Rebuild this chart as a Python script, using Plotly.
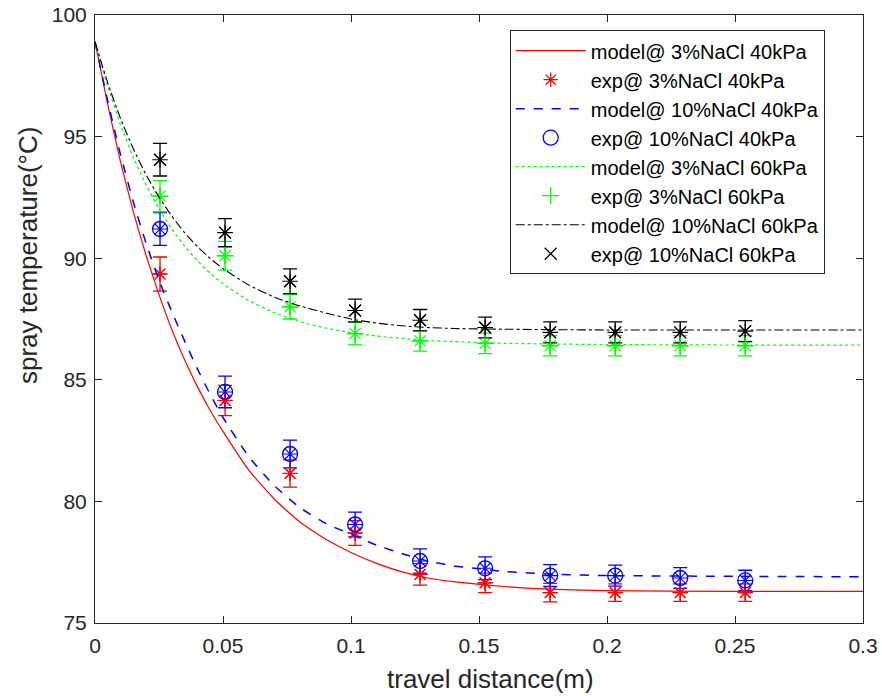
import plotly.graph_objects as go

# ---- data ----
x_model = [0, 0.005, 0.01, 0.015, 0.02, 0.025, 0.03, 0.035, 0.04, 0.045, 0.05,
           0.06, 0.07, 0.08, 0.09, 0.10, 0.11, 0.12, 0.13, 0.14, 0.16, 0.18, 0.20, 0.25, 0.30]
model_3_40 = [98.9, 96.3, 93.95, 91.9, 90.1, 88.5, 87.07, 85.82, 84.72, 83.74, 82.88,
              81.3, 80.1, 79.15, 78.45, 77.9, 77.45, 77.1, 76.85, 76.7, 76.5, 76.38, 76.33, 76.3, 76.3]
model_10_40 = [98.9, 96.45, 94.25, 92.3, 90.6, 89.1, 87.8, 86.6, 85.45, 84.4, 83.45,
               81.85, 80.65, 79.75, 79.1, 78.65, 78.2, 77.85, 77.55, 77.35, 77.12, 77.0, 76.95, 76.92, 76.9]
model_3_60 = [98.9, 97.05, 95.48, 94.15, 93.01, 92.03, 91.2, 90.5, 89.9, 89.38, 88.95,
              88.26, 87.76, 87.39, 87.13, 86.94, 86.8, 86.7, 86.62, 86.57, 86.5, 86.47, 86.45, 86.43, 86.43]
model_10_60 = [98.9, 97.2, 95.74, 94.49, 93.42, 92.51, 91.73, 91.05, 90.48, 89.99, 89.57,
               88.9, 88.4, 88.04, 87.75, 87.5, 87.33, 87.22, 87.15, 87.11, 87.08, 87.06, 87.05, 87.05, 87.05]

x_exp = [0.0254, 0.0508, 0.0762, 0.1016, 0.127, 0.1524, 0.1778, 0.2032, 0.2286, 0.254]
exp_3_40 = [89.35, 84.15, 81.15, 78.7, 77.0, 76.65, 76.25, 76.25, 76.25, 76.25]
err_3_40 = [0.7, 0.62, 0.56, 0.51, 0.44, 0.4, 0.38, 0.36, 0.36, 0.36]
exp_10_40 = [91.2, 84.5, 81.95, 79.05, 77.55, 77.25, 76.95, 76.95, 76.85, 76.75]
err_10_40 = [0.67, 0.65, 0.57, 0.51, 0.5, 0.47, 0.45, 0.43, 0.43, 0.42]
exp_3_60 = [92.55, 90.1, 88.0, 86.9, 86.6, 86.5, 86.4, 86.4, 86.4, 86.4]
err_3_60 = [0.64, 0.59, 0.5, 0.46, 0.42, 0.42, 0.42, 0.42, 0.42, 0.42]
exp_10_60 = [94.05, 91.05, 89.05, 87.85, 87.45, 87.15, 86.95, 86.95, 86.95, 87.0]
err_10_60 = [0.67, 0.58, 0.51, 0.47, 0.44, 0.43, 0.43, 0.43, 0.43, 0.43]

x_ticks = [0, 0.05, 0.1, 0.15, 0.2, 0.25, 0.3]
x_ticklabels = ["0", "0.05", "0.1", "0.15", "0.2", "0.25", "0.3"]
y_ticks = [75, 80, 85, 90, 95, 100]
x_title = "travel distance(m)"
y_title = "spray temperature(°C)"

RED = "rgb(255,0,0)"
BLUE = "rgb(0,0,255)"
GREEN = "rgb(0,255,0)"
BLACK = "rgb(0,0,0)"
AX = "#262626"
FONT = "Liberation Sans, Arial, sans-serif"

fig = go.Figure()

series = [
    ("3%NaCl 40kPa", model_3_40, exp_3_40, err_3_40, RED, "solid", "asterisk-open", 1.2),
    ("10%NaCl 40kPa", model_10_40, exp_10_40, err_10_40, BLUE, "dash", "circle-open", 1.5),
    ("3%NaCl 60kPa", model_3_60, exp_3_60, err_3_60, GREEN, "dot", "cross-thin-open", 1.2),
    ("10%NaCl 60kPa", model_10_60, exp_10_60, err_10_60, BLACK, "dashdot", "x-thin-open", 1.1),
]

# error bars with asterisk markers (not in legend)
for name, m, e, err, col, dash, sym, lw in series:
    fig.add_trace(go.Scatter(
        x=x_exp, y=e, mode="markers", showlegend=False,
        marker=dict(symbol="asterisk-open", size=13, color=col,
                    line=dict(color=col, width=1.1)),
        error_y=dict(type="data", array=err, visible=True, color=col,
                     thickness=1.3, width=7),
        hoverinfo="skip",
    ))

for name, m, e, err, col, dash, sym, lw in series:
    fig.add_trace(go.Scatter(
        x=x_model, y=m, mode="lines", name="model@ " + name,
        line=dict(color=col, dash=dash, width=lw, shape="spline", smoothing=0.5),
    ))
    fig.add_trace(go.Scatter(
        x=x_exp, y=e, mode="markers", name="exp@ " + name,
        marker=dict(symbol=sym, size=15 if sym == "circle-open" else 12, color=col,
                    line=dict(color=col, width=1.3)),
    ))

axis_common = dict(
    showline=True, linecolor=AX, linewidth=1, mirror="ticks",
    ticks="inside", ticklen=7, tickwidth=1, tickcolor=AX,
    showgrid=False, zeroline=False, automargin=False,
    tickfont=dict(family=FONT, size=21, color=AX),
)

fig.update_layout(
    width=882, height=696, autosize=False,
    margin=dict(l=95, r=19, t=15, b=73, autoexpand=False),
    paper_bgcolor="white", plot_bgcolor="white",
    font=dict(family=FONT, size=20, color=AX),
    xaxis=dict(range=[0, 0.3], tickvals=x_ticks, ticktext=x_ticklabels,
               ticklabelstandoff=4, **axis_common),
    yaxis=dict(range=[75, 100], tickvals=y_ticks,
               ticklabelstandoff=3, **axis_common),
    legend=dict(x=0.540, y=0.975, xanchor="left", yanchor="top",
                bgcolor="white", bordercolor=AX, borderwidth=1,
                font=dict(family=FONT, size=20, color="black"),
                itemwidth=70, tracegroupgap=0),
    showlegend=True,
    annotations=[
        dict(text=x_title, xref="paper", yref="paper", x=0.515, y=-0.0925,
             xanchor="center", yanchor="middle", showarrow=False,
             font=dict(family=FONT, size=26, color=AX)),
        dict(text=y_title, xref="paper", yref="paper", x=-0.0872, y=0.6036,
             xanchor="center", yanchor="middle", showarrow=False, textangle=-90,
             font=dict(family=FONT, size=26, color=AX)),
    ],
)

fig.write_html("out.html", config={"displayModeBar": False},
               post_script="document.body.style.margin='0';document.body.style.overflow='hidden';")
